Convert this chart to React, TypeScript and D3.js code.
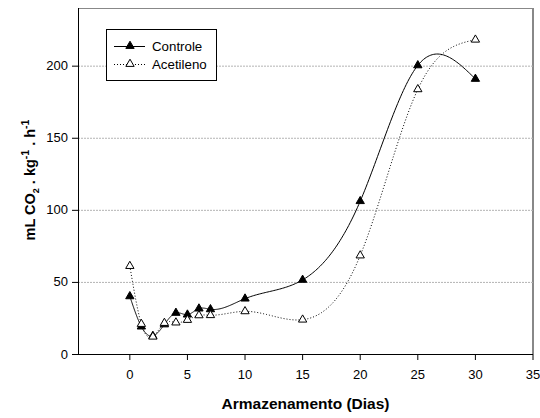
import React from "react";
import * as d3 from "d3";

// Storage days (x) and respiration rate (mL CO2 per kg per h)
const days = [0, 1, 2, 3, 4, 5, 6, 7, 10, 15, 20, 25, 30];
const controle = [40, 19, 12.5, 20.5, 28.5, 27.3, 31.5, 31, 38.4, 51.4, 106, 200.2, 190.8];
const acetileno = [61, 20.8, 12, 21.5, 21.8, 23.6, 26.8, 26.9, 29.6, 23.8, 68.3, 183.6, 218];

const xTicks = [0, 5, 10, 15, 20, 25, 30, 35];
const yTicks = [0, 50, 100, 150, 200];
const gridValues = [50, 100, 150, 200];

const W = 540;
const H = 418;
const M = { left: 78, right: 7, top: 8, bottom: 64 };

// Natural cubic spline y(x), evaluated densely for a smooth curve
function naturalSpline(xs: number[], ys: number[], samples = 40): [number, number][] {
  const n = xs.length;
  const h = d3.range(n - 1).map((i) => xs[i + 1] - xs[i]);
  const alpha = new Array(n).fill(0);
  for (let i = 1; i < n - 1; i++) {
    alpha[i] = (3 / h[i]) * (ys[i + 1] - ys[i]) - (3 / h[i - 1]) * (ys[i] - ys[i - 1]);
  }
  const l = new Array(n).fill(1);
  const mu = new Array(n).fill(0);
  const z = new Array(n).fill(0);
  for (let i = 1; i < n - 1; i++) {
    l[i] = 2 * (xs[i + 1] - xs[i - 1]) - h[i - 1] * mu[i - 1];
    mu[i] = h[i] / l[i];
    z[i] = (alpha[i] - h[i - 1] * z[i - 1]) / l[i];
  }
  const c = new Array(n).fill(0);
  const b = new Array(n).fill(0);
  const d = new Array(n).fill(0);
  for (let j = n - 2; j >= 0; j--) {
    c[j] = z[j] - mu[j] * c[j + 1];
    b[j] = (ys[j + 1] - ys[j]) / h[j] - (h[j] * (c[j + 1] + 2 * c[j])) / 3;
    d[j] = (c[j + 1] - c[j]) / (3 * h[j]);
  }
  const pts: [number, number][] = [];
  for (let i = 0; i < n - 1; i++) {
    for (let k = 0; k < samples; k++) {
      const t = (h[i] * k) / samples;
      pts.push([xs[i] + t, ys[i] + b[i] * t + c[i] * t * t + d[i] * t * t * t]);
    }
  }
  pts.push([xs[n - 1], ys[n - 1]]);
  return pts;
}

export default function App() {
  const x = d3.scaleLinear().domain([-4.5, 35]).range([M.left, W - M.right]);
  const y = d3.scaleLinear().domain([0, 240]).range([H - M.bottom, M.top]);
  const line = d3
    .line<[number, number]>()
    .x((p) => x(p[0]))
    .y((p) => y(p[1]));

  const tri = d3.symbol().type(d3.symbolTriangle).size(30)();
  const font = "'Liberation Sans', Arial, sans-serif";
  const x0 = M.left;
  const x1 = W - M.right;
  const yBottom = H - M.bottom;

  const cPts = naturalSpline(days, controle);
  const aPts = naturalSpline(days, acetileno);

  return (
    <div style={{ position: "fixed", left: 0, top: 0 }}>
      <svg width={W} height={H} style={{ display: "block", background: "#fff" }}>
        {/* frame */}
        <line x1={x0} x2={x1} y1={M.top + 0.5} y2={M.top + 0.5} stroke="#888" strokeWidth={1} />
        <line x1={x1} x2={x1} y1={M.top} y2={yBottom} stroke="#888" strokeWidth={2} />

        {/* gridlines */}
        {gridValues.map((v) => (
          <line
            key={v}
            x1={x0}
            x2={x1}
            y1={y(v) + 0.5}
            y2={y(v) + 0.5}
            stroke="#b4b4b4"
            strokeWidth={1}
            strokeDasharray="2 1"
          />
        ))}

        {/* axes */}
        <line x1={x0 + 0.5} x2={x0 + 0.5} y1={M.top} y2={yBottom} stroke="#000" strokeWidth={1} />
        <line x1={x0} x2={x1} y1={yBottom + 0.5} y2={yBottom + 0.5} stroke="#000" strokeWidth={1} />

        {xTicks.map((t) => (
          <g key={t}>
            <line x1={x(t)} x2={x(t)} y1={yBottom} y2={yBottom + 6} stroke="#000" />
            <text x={x(t)} y={yBottom + 25} fontFamily={font} fontSize={13} textAnchor="middle">
              {t}
            </text>
          </g>
        ))}
        {yTicks.map((t) => (
          <g key={t}>
            <line x1={x0 - 6} x2={x0} y1={y(t) + 0.5} y2={y(t) + 0.5} stroke="#000" />
            <text x={x0 - 10} y={y(t) + 4.5} fontFamily={font} fontSize={13} textAnchor="end">
              {t}
            </text>
          </g>
        ))}

        {/* series curves */}
        <path d={line(aPts) ?? ""} fill="none" stroke="#000" strokeWidth={1} strokeDasharray="1 2" />
        <path d={line(cPts) ?? ""} fill="none" stroke="#000" strokeWidth={1} />

        {/* markers */}
        {days.map((dd, i) => (
          <path
            key={"c" + dd}
            d={tri ?? ""}
            transform={`translate(${x(dd)},${y(controle[i])})`}
            fill="#000"
            stroke="#000"
            strokeWidth={1}
          />
        ))}
        {days.map((dd, i) => (
          <path
            key={"a" + dd}
            d={tri ?? ""}
            transform={`translate(${x(dd)},${y(acetileno[i])})`}
            fill="#fff"
            stroke="#000"
            strokeWidth={1}
          />
        ))}

        {/* legend */}
        <rect x={106.5} y={29.5} width={110} height={51} fill="#fff" stroke="#000" strokeWidth={1} />
        <line x1={114} x2={145} y1={46.5} y2={46.5} stroke="#000" strokeWidth={1} />
        <path d={tri ?? ""} transform="translate(130,46)" fill="#000" stroke="#000" />
        <text x={152} y={51} fontFamily={font} fontSize={13.3}>
          Controle
        </text>
        <line x1={114} x2={145} y1={64.5} y2={64.5} stroke="#000" strokeWidth={1} strokeDasharray="1 2" />
        <path d={tri ?? ""} transform="translate(130,64)" fill="#fff" stroke="#000" />
        <text x={152} y={69} fontFamily={font} fontSize={13.3}>
          Acetileno
        </text>

        {/* axis titles */}
        <text
          x={(x0 + x1) / 2}
          y={409}
          fontFamily={font}
          fontSize={15.5}
          fontWeight="bold"
          textAnchor="middle"
        >
          Armazenamento (Dias)
        </text>
        <text
          transform={`translate(35,${(M.top + yBottom) / 2 - 1}) rotate(-90)`}
          fontFamily={font}
          fontSize={14.5}
          fontWeight="bold"
          textAnchor="middle"
        >
          mL CO
          <tspan fontSize={9} dy={4}>2</tspan>
          <tspan dy={-4}> . kg</tspan>
          <tspan fontSize={10.5} dy={-6}>-1</tspan>
          <tspan dy={6}> . h</tspan>
          <tspan fontSize={10.5} dy={-6}>-1</tspan>
        </text>
      </svg>
    </div>
  );
}
